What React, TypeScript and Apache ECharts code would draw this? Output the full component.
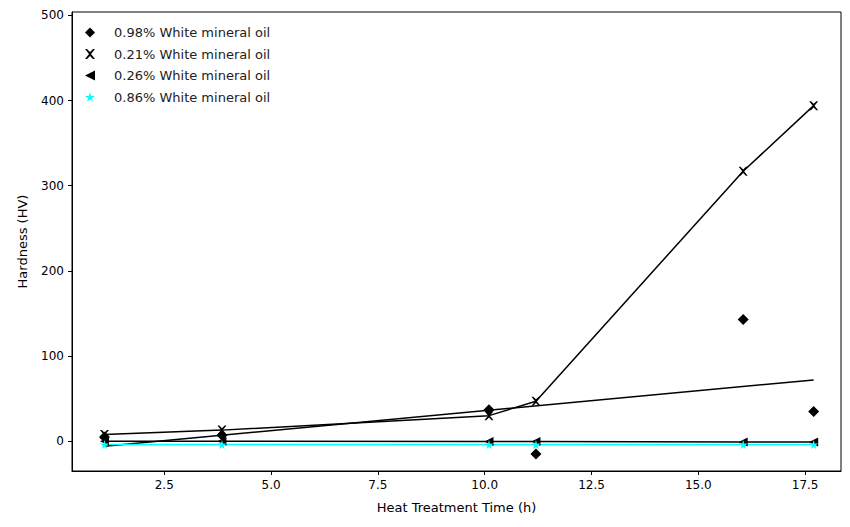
import React, { useEffect, useRef } from "react";
import * as echarts from "echarts";

const times = [1.1, 3.85, 10.1, 11.2, 16.05, 17.7];
const s098 = [5, 7, 37, -15, 143, 35];
const s021 = [8, 13, 30, 47, 317, 394];
const s026 = [0, 0, -0.5, -0.5, -1, -1];
const s086 = [-4, -4, -4, -4, -4, -4];
const fitX = [1.1, 17.7];
const fitY = [-6, 72];
const xTicks = [2.5, 5.0, 7.5, 10.0, 12.5, 15.0, 17.5];
const yTicks = [0, 100, 200, 300, 400, 500];
const names = ["0.98% White mineral oil", "0.21% White mineral oil", "0.26% White mineral oil", "0.86% White mineral oil"];

const XPATH = "path://M0,0L2,0L5,3L8,0L10,0L6,5L10,10L8,10L5,7L2,10L0,10L4,5Z";
const STAR = "path://M50,0L61,35L98,35L68,57L79,91L50,70L21,91L32,57L2,35L39,35Z";
const TRI_LEFT = "path://M0,5L10,0L10,10Z";

const pairs = (ys: number[]) => times.map((t, i) => [t, ys[i]]);

export default function App() {
  const ref = useRef<HTMLDivElement>(null);
  useEffect(() => {
    const chart = echarts.init(ref.current!, null, { renderer: "svg" });
    const font = "DejaVu Sans";
    const axisCommon = {
      axisLine: { show: true, onZero: false, lineStyle: { color: "#000" } },
      axisTick: { show: true, length: 4, lineStyle: { color: "#000" } },
      splitLine: { show: false },
    };
    chart.setOption({
      animation: false,
      textStyle: { fontFamily: font },
      grid: { left: 59, right: 1, top: 4, bottom: 46, show: true, borderColor: "#000", borderWidth: 1 },
      legend: {
        orient: "vertical", left: 72, top: 13, itemGap: 8.5, itemWidth: 10, itemHeight: 10,
        textStyle: { fontSize: 13, color: "#222", fontFamily: font, padding: [0, 0, 0, 14] },
        data: [
          { name: names[0], icon: "diamond", itemStyle: { color: "#000", opacity: 1 } },
          { name: names[1], icon: XPATH, itemStyle: { color: "#000" } },
          { name: names[2], icon: TRI_LEFT, itemStyle: { color: "#000" } },
          { name: names[3], icon: STAR, itemStyle: { color: "#00ffff" } },
        ],
      },
      xAxis: {
        type: "value", min: 0.34, max: 18.34, ...axisCommon,
        axisTick: { ...axisCommon.axisTick, customValues: xTicks },
        axisLabel: { customValues: xTicks, color: "#000", fontSize: 12, formatter: (v: number) => v.toFixed(1) },
        name: "Heat Treatment Time (h)", nameLocation: "middle", nameGap: 30,
        nameTextStyle: { fontSize: 13, color: "#000" },
      },
      yAxis: {
        type: "value", min: -35, max: 504, ...axisCommon,
        axisTick: { ...axisCommon.axisTick, customValues: yTicks },
        axisLabel: { customValues: yTicks, color: "#000", fontSize: 12 },
        name: "Hardness (HV)", nameLocation: "middle", nameGap: 43,
        nameTextStyle: { fontSize: 13, color: "#000" },
      },
      series: [
        { name: "fit", type: "line", data: fitX.map((x, i) => [x, fitY[i]]), symbol: "none", lineStyle: { color: "#000", width: 1.5 }, z: 1 },
        { name: names[0], type: "scatter", data: pairs(s098), symbol: "diamond", symbolSize: 11, itemStyle: { color: "#000", opacity: 1 } },
        { name: names[1], type: "line", data: pairs(s021), symbol: XPATH, symbolSize: 9, showAllSymbol: true, itemStyle: { color: "#000" }, lineStyle: { color: "#000", width: 1.5 } },
        { name: names[2], type: "line", data: pairs(s026), symbol: TRI_LEFT, symbolSize: 9, itemStyle: { color: "#000" }, lineStyle: { color: "#000", width: 1.5 } },
        { name: names[3], type: "line", data: pairs(s086), symbol: STAR, symbolSize: 9, itemStyle: { color: "#00ffff" }, lineStyle: { color: "#00ffff", width: 1.5 } },
      ],
    });
    return () => chart.dispose();
  }, []);
  return <div ref={ref} style={{ width: 834, height: 511 }} />;
}
